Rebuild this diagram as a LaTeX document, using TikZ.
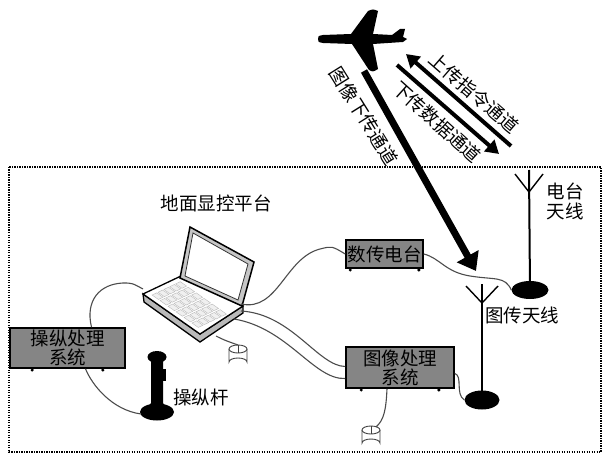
\documentclass[tikz,border=0pt]{standalone}
\usepackage{fontspec}
\newfontfamily\cjk{Noto Sans CJK SC}
\usetikzlibrary{shapes.geometric, arrows.meta, positioning, calc}
\tikzset{
  devbox/.style={rectangle, draw=black, line width=1.6pt, fill=black!48,
                 inner sep=0pt, align=center,
                 font=\cjk\fontsize{18.5}{19}\selectfont},
  lbl/.style={font=\cjk\fontsize{18.5}{20}\selectfont, inner sep=0pt, align=left},
  cable/.style={draw=black!70, line width=1.1pt},
  antbase/.style={ellipse, fill=black, inner sep=0pt},
  antmast/.style={line width=2pt},
  chanarrow/.style={line width=4pt, -{Triangle[length=13pt, width=15pt]}},
  keycap/.style={fill=gray!12, draw=gray!55, line width=0.4pt},
  mousebody/.style={fill=white, draw=black!75, line width=0.9pt},
}
\begin{document}
\begin{tikzpicture}[x=1pt, y=-1pt]
    \useasboundingbox (0,0) rectangle (604,454);
    % Zona de solo
    \draw[line width=2.2pt, dash pattern=on 1.4pt off 1.1pt] (9,167) rectangle (601,452);

    % Aviao
    \fill[black] (318,39) .. controls (318,36) .. (323,35) -- (351,34) -- (368,11)
      .. controls (373,9) .. (378,11) -- (373,34) -- (392,35) -- (400,29) -- (405,29)
      -- (403,37) -- (407,39) -- (403,42) -- (373,44) -- (378,69)
      .. controls (373,72) .. (369,70) -- (352,44) -- (323,43)
      .. controls (318,42) .. (318,39) -- cycle;

    % Canais de comunicacao
    \coordinate (imgstart) at (364,71);
    \coordinate (imgtip) at (476,271);
    \coordinate (upstart) at (511,146);
    \coordinate (uptip) at (406,54);
    \coordinate (dnstart) at (397,65);
    \coordinate (dntip) at (499,154);
    \draw[chanarrow, line width=7pt, -{Triangle[length=17pt, width=24pt]}] (imgstart) -- (imgtip);
    \draw[chanarrow] (upstart) -- (uptip);
    \draw[chanarrow] (dnstart) -- (dntip);
    \node[lbl, rotate=-58] (imglbl) at (364,116) {图像下传通道};
    \node[lbl, rotate=-41] (uplbl) at (474,93) {上传指令通道};
    \node[lbl, rotate=-42] (dnlbl) at (437,122) {下传数据通道};

    % Notebook
    \node[lbl] (laplbl) at (216,203) {地面显控平台};
    \filldraw[line width=1.3pt, fill=gray!55] (143,294) -- (200,334) -- (243,306)
      -- (243,313) -- (200,342) -- (144,302) -- cycle;
    \filldraw[line width=1.3pt, fill=white] (143,294) -- (181,276) -- (243,306) -- (200,334) -- cycle;
    \foreach \i in {0,...,5}
      \foreach \j in {0,...,4} {
        \pgfmathsetmacro\kx{143+(0.08+0.14*\i)*57+(0.12+0.155*\j)*38}
        \pgfmathsetmacro\ky{294+(0.08+0.14*\i)*40-(0.12+0.155*\j)*18}
        \draw[keycap] (\kx,\ky) -- ++(6.3,4.4) -- ++(4.6,-2.2) -- ++(-6.3,-4.4) -- cycle;
      }
    \filldraw[line width=1.5pt, fill=gray!45] (190,227) -- (254,262) -- (242,306) -- (180,278) -- cycle;
    \filldraw[draw=black!80, line width=0.8pt, fill=white] (193,233) -- (248,264) -- (238,300) -- (185,276) -- cycle;
    \coordinate (lapleft) at (143,289);
    \coordinate (lapradio) at (241,304);
    \coordinate (lapimga) at (241,311);
    \coordinate (lapimgb) at (234,319);
    \coordinate (lapmouse) at (216,336);

    % Mouse do notebook
    \filldraw[mousebody] (229,349) -- (229,362) arc[start angle=180, end angle=360, x radius=9, y radius=4]
      -- (247,349);
    \filldraw[mousebody] (238,349) ellipse[x radius=9, y radius=4];
    \draw[black!75, line width=0.7pt] (238,345) -- (238,353);
    \coordinate (mouseA) at (238,345);

    % Equipamentos
    \node[devbox, minimum width=115, minimum height=40] (ctrlbox) at (67.5,348) {操纵处理\\系统};
    \node[devbox, minimum width=77, minimum height=28] (radio) at (384.5,254) {数传电台};
    \node[devbox, minimum width=108, minimum height=41] (imgbox) at (400,367.5) {图像处理\\系统};
    \foreach \b/\d in {ctrlbox/23, radio/5, imgbox/16} {
      \fill ($(\b.south west)+(\d,1.2)$) circle[radius=1.7];
      \fill ($(\b.south east)+(-\d,1.2)$) circle[radius=1.7];
    }

    % Manche
    \fill[black] (157,412) ellipse[x radius=17, y radius=8.5];
    \fill[black] (151,360) -- (163,360) -- (163,403) -- (168,410) -- (146,410) -- (151,403) -- cycle;
    \fill[black] (163,369) rectangle (166,381);
    \fill[black] (157,357) ellipse[x radius=9.5, y radius=6];
    \coordinate (stick) at (141,414);
    \node[lbl] (sticklbl) at (201,397) {操纵杆};

    % Antenas
    \node[antbase, minimum width=37, minimum height=18] (radant) at (530,290) {};
    \draw[antmast] (radant.center) -- (529,170);
    \draw[line width=1.4pt] (515,174) -- (529,192) -- (543,174);
    \node[lbl] (radantlbl) at (565,201) {电台\\天线};

    \node[antbase, minimum width=35, minimum height=19] (imgant) at (482,400) {};
    \draw[antmast] (imgant.center) -- (482,284);
    \draw[line width=1.4pt] (466,286) -- (482,303) -- (498,286);
    \node[lbl] (imgantlbl) at (522,315) {图传天线};

    % Mouse do processamento de imagem
    \filldraw[mousebody] (362,430) -- (362,443) arc[start angle=180, end angle=360, x radius=9, y radius=4]
      -- (380,430);
    \filldraw[mousebody] (371,430) ellipse[x radius=9, y radius=4];
    \draw[black!75, line width=0.7pt] (371,426) -- (371,434);
    \coordinate (mouseB) at (376,427);

    % Cabos
    \draw[cable] ($(ctrlbox.north)+(24,0)$) .. controls (85,300) and (100,284) .. (123,283)
      .. controls (132,283) .. (lapleft);
    \draw[cable] ($(ctrlbox.south)+(18,0)$) .. controls (92,385) and (112,410) .. (stick);
    \draw[cable] (lapradio) .. controls (278,312) and (285,258) .. (320,249)
      .. controls (332,246) .. (radio.west);
    \draw[cable] (radio.east) .. controls (440,258) and (445,272) .. (470,276)
      .. controls (495,280) and (505,276) .. (radant.west);
    \draw[cable] (lapimga) .. controls (292,314) and (318,366) .. ($(imgbox.west)+(0,-1)$);
    \draw[cable] (lapimgb) .. controls (288,328) and (314,380) .. ($(imgbox.west)+(0,11)$);
    \draw[cable] (lapmouse) .. controls (224,340) .. (mouseA);
    \draw[cable] ($(imgbox.east)+(0,6)$) .. controls (463,376) and (455,394) .. (imgant.west);
    \draw[cable] ($(imgbox.south)+(-13,0)$) .. controls (386,410) and (384,420) .. (mouseB);
  \end{tikzpicture}
\end{document}
